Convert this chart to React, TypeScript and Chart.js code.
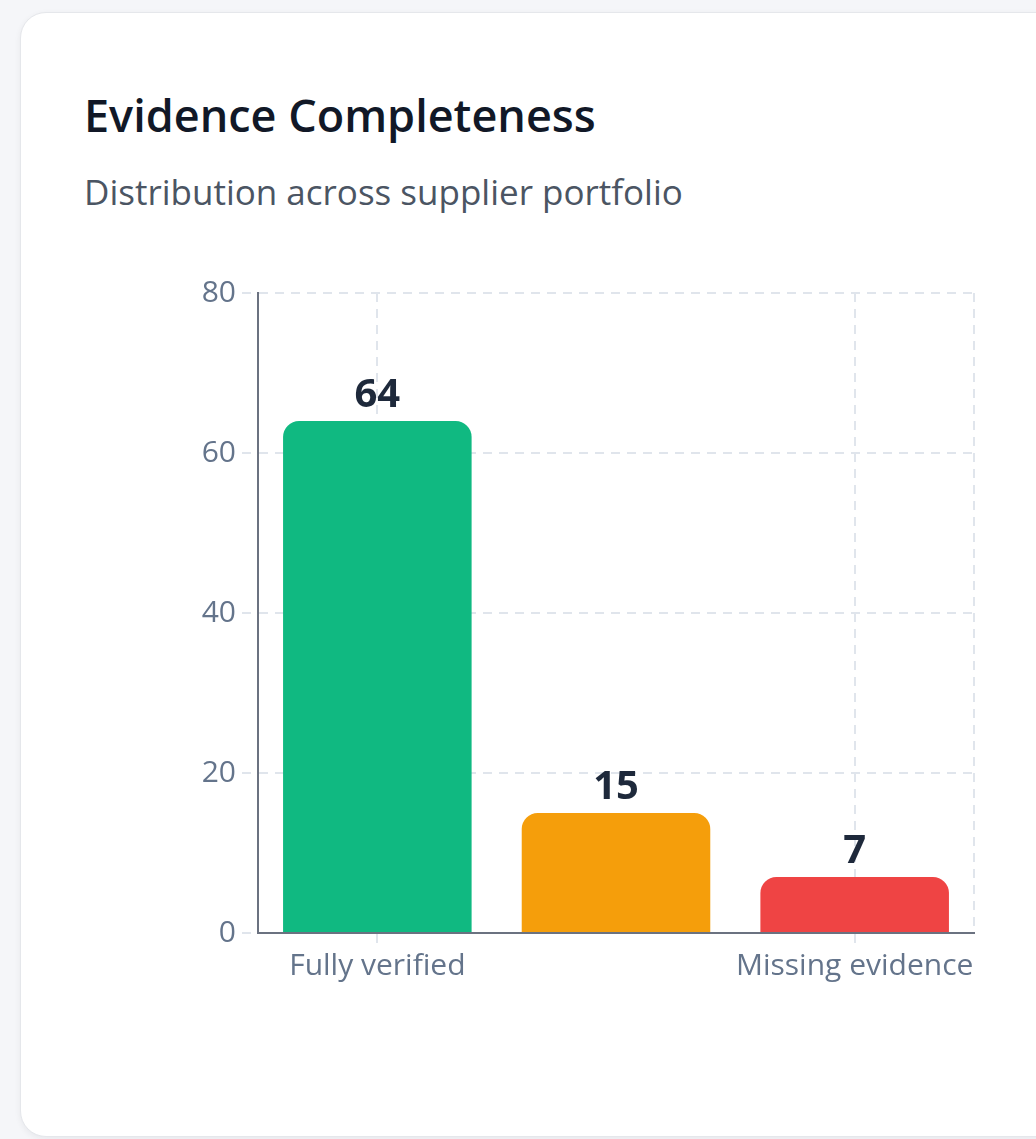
import React, { useEffect, useRef } from "react";
import { Chart, registerables } from "chart.js";

Chart.register(...registerables);

const categories = ["Fully verified", "Partial evidence", "Missing evidence"];
const supplierCounts = [64, 15, 7];
const barColors = ["#10b981", "#f59e0b", "#ef4444"];
const yTickValues = [0, 20, 40, 60, 80];

const FONT = "'Open Sans', 'Noto Sans', sans-serif";
const GRID = "#e0e5ec";
const DASH = [9, 7];

const valueLabelPlugin = {
  id: "valueLabels",
  afterDatasetsDraw(chart: any) {
    const { ctx } = chart;
    const meta = chart.getDatasetMeta(0);
    ctx.save();
    ctx.font = `700 40px ${FONT}`;
    ctx.fillStyle = "#1e293b";
    ctx.textAlign = "center";
    ctx.textBaseline = "alphabetic";
    meta.data.forEach((bar: any, i: number) => {
      ctx.fillText(String(chart.data.datasets[0].data[i]), bar.x, bar.y - 14);
    });
    ctx.restore();
  },
};

const edgeGridPlugin = {
  id: "edgeGrid",
  beforeDatasetsDraw(chart: any) {
    const { ctx, chartArea } = chart;
    ctx.save();
    ctx.strokeStyle = GRID;
    ctx.lineWidth = 2;
    ctx.setLineDash(DASH);
    ctx.beginPath();
    ctx.moveTo(chartArea.right, chartArea.top);
    ctx.lineTo(chartArea.right, chartArea.bottom);
    ctx.stroke();
    ctx.restore();
  },
};

function BarChart() {
  const ref = useRef<HTMLCanvasElement | null>(null);
  useEffect(() => {
    if (!ref.current) return;
    const chart = new Chart(ref.current, {
      type: "bar",
      data: {
        labels: categories,
        datasets: [
          {
            data: supplierCounts,
            backgroundColor: barColors,
            borderRadius: { topLeft: 16, topRight: 16, bottomLeft: 0, bottomRight: 0 },
            borderSkipped: false,
            barPercentage: 0.79,
            categoryPercentage: 1,
          },
        ],
      },
      options: {
        animation: false,
        responsive: false,
        maintainAspectRatio: false,
        devicePixelRatio: 1,
        layout: { padding: { top: 43, right: 36, left: 0, bottom: 0 } },
        plugins: {
          legend: { display: false },
          tooltip: { enabled: false },
          title: { display: false },
        },
        scales: {
          x: {
            grid: {
              offset: false,
              color: GRID,
              lineWidth: 2,
              tickLength: 14,
              tickColor: GRID,
              tickBorderDash: DASH,
            },
            border: { display: true, color: "#6b7280", width: 2, dash: DASH },
            ticks: {
              color: "#64748b",
              font: { family: FONT, size: 30 },
              padding: 1,
              maxRotation: 0,
              autoSkip: true,
            },
            afterFit(scale: any) {
              scale.height = 117;
            },
          },
          y: {
            min: 0,
            max: 80,
            afterBuildTicks(scale: any) {
              scale.ticks = yTickValues.map((v) => ({ value: v }));
            },
            grid: {
              color: GRID,
              lineWidth: 2,
              tickLength: 16,
              tickColor: GRID,
              tickBorderDash: DASH,
            },
            border: { display: true, color: "#6b7280", width: 2, dash: DASH },
            ticks: {
              color: "#64748b",
              font: { family: FONT, size: 30 },
              padding: 6,
            },
            afterFit(scale: any) {
              scale.width = 108;
            },
          },
        },
      },
      plugins: [valueLabelPlugin, edgeGridPlugin],
    });
    return () => chart.destroy();
  }, []);
  return (
    <canvas
      ref={ref}
      width={860}
      height={800}
      style={{ position: "absolute", left: 150, top: 250, width: 860, height: 800 }}
    />
  );
}

export default function App() {
  useEffect(() => {
    document.body.style.margin = "0";
    document.body.style.background = "#f5f6f9";
  }, []);
  return (
    <div style={{ position: "relative", width: 1036, height: 1139, overflow: "hidden", background: "#f5f6f9" }}>
      <div
        style={{
          position: "absolute",
          left: 20,
          top: 12,
          width: 1060,
          height: 1125,
          background: "#ffffff",
          borderRadius: 26,
          border: "1px solid #e5e7eb",
          boxShadow: "0 2px 6px rgba(15,23,42,0.06)",
          boxSizing: "border-box",
        }}
      >
        <div
          style={{
            position: "absolute",
            left: 63,
            top: 72,
            fontFamily: FONT,
            fontWeight: 600,
            fontSize: 45,
            color: "#111827",
            lineHeight: "60px",
            whiteSpace: "nowrap",
          }}
        >
          Evidence Completeness
        </div>
        <div
          style={{
            position: "absolute",
            left: 63,
            top: 156,
            fontFamily: FONT,
            fontWeight: 400,
            fontSize: 35,
            color: "#4b5563",
            lineHeight: "45px",
            whiteSpace: "nowrap",
          }}
        >
          Distribution across supplier portfolio
        </div>
      </div>
      <BarChart />
    </div>
  );
}
